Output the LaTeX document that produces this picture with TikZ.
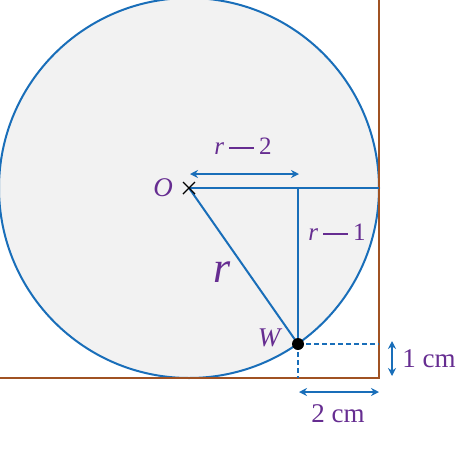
\documentclass[tikz,border=0pt]{standalone}
\usepackage{fontspec}
\setmainfont{Liberation Serif}
\usetikzlibrary{arrows.meta,calc}
\definecolor{lineblue}{RGB}{25,110,185}
\definecolor{wallbrown}{RGB}{160,82,35}
\definecolor{txtpurple}{RGB}{102,45,145}
\definecolor{fillgray}{RGB}{242,242,242}
\newcommand{\mminus}{\hspace{0.2em}\rule[0.23em]{1em}{0.06em}\hspace{0.2em}}
\tikzset{
  blueline/.style={draw=lineblue, line width=2pt},
  wall/.style={draw=wallbrown, line width=2pt},
  dashline/.style={draw=lineblue, line width=1.8pt, dash pattern=on 5pt off 3pt},
  dimarrow/.style={draw=lineblue, line width=1.8pt, {Stealth[length=8pt,width=8pt]}-{Stealth[length=8pt,width=8pt]}},
  lbl/.style={text=txtpurple, inner sep=0pt, font=\fontsize{25}{28}\selectfont},
  lblit/.style={text=txtpurple, inner sep=0pt, font=\fontsize{27}{30}\selectfont\itshape},
}
\begin{document}
\begin{tikzpicture}[x=1pt,y=-1pt]
\useasboundingbox (0,0) rectangle (474,448);
\coordinate (O) at (189,188);
\coordinate (E) at (379,188);
\coordinate (F) at (298,188);
\coordinate (W) at (298,344);
\coordinate (WR) at (379,344);
\coordinate (WB) at (298,378);
\coordinate (TR) at (379,0);
\coordinate (BR) at (379,378);
\coordinate (BL) at (0,378);
% circle
\draw[blueline, fill=fillgray] (O) circle (190);
% walls
\draw[wall] (TR) -- (BR) -- (BL);
% lines
\draw[blueline] (O) -- (E);
\draw[blueline] (F) -- (W);
\draw[blueline] (O) -- (W);
\draw[dashline] (W) -- (WR);
\draw[dashline] (W) -- (WB);
% cross at O
\draw[black, line width=1.4pt] ($(O)+(-6,-6)$) -- ($(O)+(6,6)$) ($(O)+(-6,6)$) -- ($(O)+(6,-6)$);
% point W
\fill[black] (W) circle (6);
% dimension arrows
\coordinate (A1) at (190,174);
\coordinate (A2) at (299,174);
\draw[dimarrow] (A1) -- (A2);
\coordinate (B1) at (392,341);
\coordinate (B2) at (392,376);
\draw[dimarrow] (B1) -- (B2);
\coordinate (C1) at (299,392);
\coordinate (C2) at (379,392);
\draw[dimarrow] (C1) -- (C2);
% labels
\node[lbl] (lr2) at (243,146) {\textit{r}\mminus 2};
\node[lbl] (lr1) at (337,232) {\textit{r}\mminus 1};
\node[lblit] (lO) at (163,188) {O};
\node[lblit] (lW) at (269,338) {W};
\node[text=txtpurple, inner sep=0pt, font=\fontsize{44}{48}\selectfont\itshape] (lr) at (222,272) {r};
\node[lbl, font=\fontsize{27}{30}\selectfont] (l1) at (429,359) {1 cm};
\node[lbl, font=\fontsize{27}{30}\selectfont] (l2) at (338,414) {2 cm};
\end{tikzpicture}
\end{document}
